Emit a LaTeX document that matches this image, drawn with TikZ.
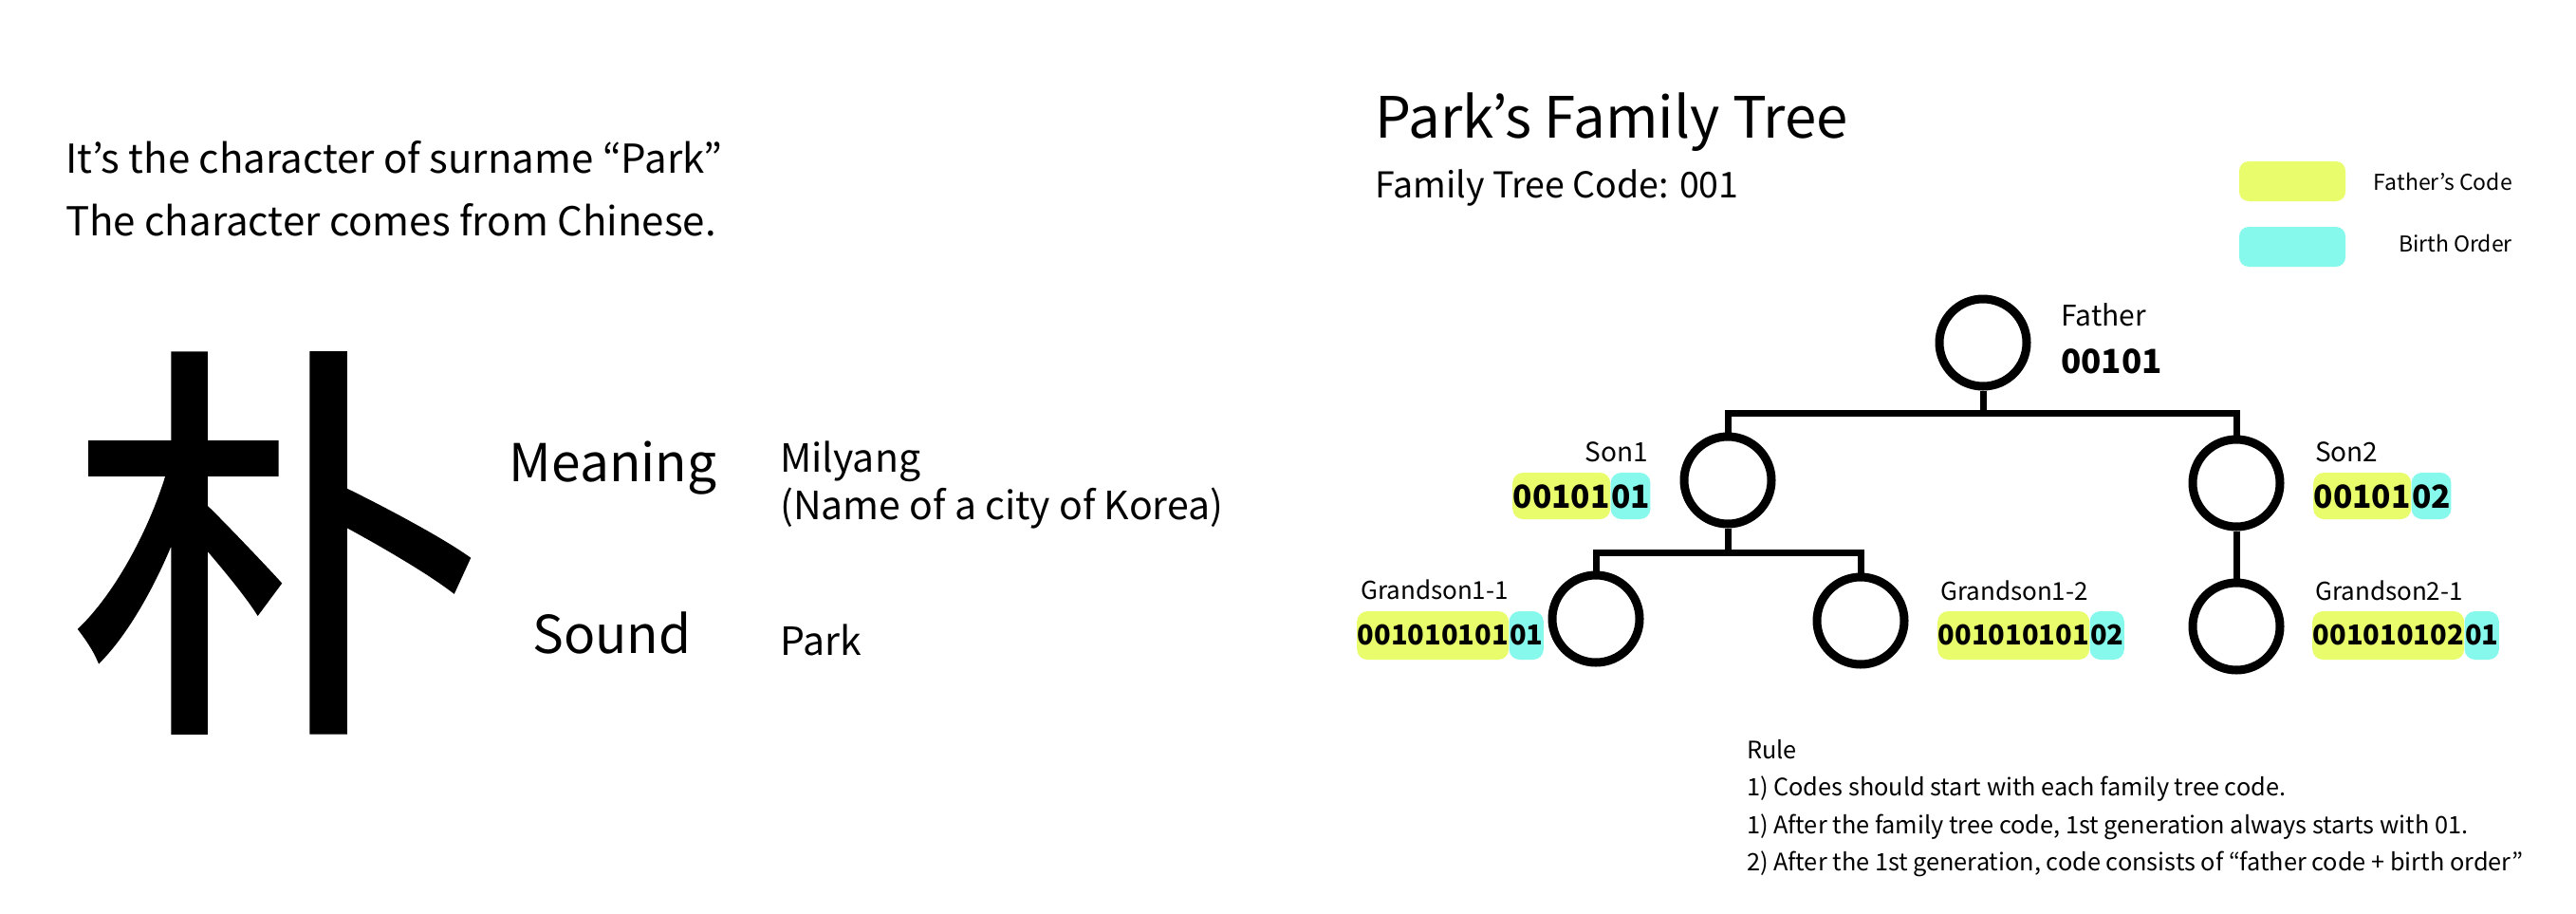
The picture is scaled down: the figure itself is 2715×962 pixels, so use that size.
\documentclass[tikz,border=0pt]{standalone}
\usepackage{fontspec}
\setmainfont{Noto Sans CJK KR}
\newfontfamily\cjkfont[FakeBold=1.5]{Noto Sans CJK KR}
\newcommand{\myfs}[1]{\fontsize{#1}{#1}\selectfont}
\definecolor{fcode}{RGB}{233,252,107}
\definecolor{bcode}{RGB}{134,249,236}
\begin{document}
\begin{tikzpicture}[x=1pt,y=-1pt,
  txt/.style={inner sep=0pt, anchor=base west},
  txtr/.style={inner sep=0pt, anchor=base east},
  person/.style={circle, draw=black, line width=9pt, minimum size=92pt, inner sep=0pt},
  conn/.style={draw=black, line width=7pt, line join=miter},
  legbox/.style={rounded corners=10pt, minimum width=112pt, minimum height=42pt, inner sep=0pt},
  sonhl/.style={rounded corners=11pt, inner xsep=0.5pt, inner ysep=0pt, text height=37pt, text depth=12pt, anchor=base west, font=\bfseries\myfs{33.5}},
  gsonhl/.style={rounded corners=11pt, inner xsep=0.5pt, inner ysep=0pt, text height=35pt, text depth=16pt, anchor=base west, font=\bfseries\myfs{29}}
]
\useasboundingbox (0,0) rectangle (2715,962);
\fill[white] (0,0) rectangle (2715,962);

% left part
\node[txt, font=\myfs{42}] (intro1) at (69,182) {It’s the character of surname “Park”};
\node[txt, font=\myfs{42}] (intro2) at (69,248) {The character comes from Chinese.};
\node[inner sep=0pt, font=\cjkfont\myfs{432}] (park) at (290,572) {朴};
\node[inner sep=0pt, anchor=base, font=\myfs{55}] (meaning) at (646,507) {Meaning};
\node[inner sep=0pt, anchor=base, font=\myfs{55}] (sound) at (645,688) {Sound};
\node[txt, font=\myfs{41}] (mil1) at (822,497) {Milyang};
\node[txt, font=\myfs{41}] (mil2) at (822,547) {(Name of a city of Korea)};
\node[txt, font=\myfs{41}] (sndval) at (822,690) {Park};

% right part
\node[txt, font=\myfs{60}] (title) at (1449,145) {Park’s Family Tree};
\node[txt, font=\myfs{37.5}] (ftc) at (1449,208) {Family Tree Code: 001};

\node[legbox, fill=fcode] (legy) at (2416,191) {};
\node[legbox, fill=bcode] (legc) at (2416,260) {};
\node[txtr, font=\myfs{23}] (legyt) at (2648,200) {Father’s Code};
\node[txtr, font=\myfs{23}] (legct) at (2648,265) {Birth Order};

% persons
\node[person] (father) at (2090,361) {};
\node[person] (son1) at (1821,506) {};
\node[person] (son2) at (2357,509) {};
\node[person] (g11) at (1682,652) {};
\node[person] (g12) at (1961,654) {};
\node[person] (g21) at (2357,660) {};

\coordinate (bar1) at (0,435);
\coordinate (bar2) at (0,582);
\draw[conn] (father.south) -- (father.south |- bar1);
\draw[conn] (son1.north) -- (son1.north |- bar1) -- (son2.north |- bar1) -- (son2.north);
\draw[conn] (son1.south) -- (son1.south |- bar2);
\draw[conn] (g11.north) -- (g11.north |- bar2) -- (g12.north |- bar2) -- (g12.north);
\draw[conn] (son2.south) -- (g21.north);

% labels
\node[txt, font=\myfs{30}] (fatherlbl) at (2172,343) {Father};
\node[txt, font=\bfseries\myfs{35}] (fathercode) at (2172,393) {00101};

\node[txtr, font=\myfs{28}] (son1lbl) at (1737,486) {Son1};
\node[sonhl, fill=fcode] (s1y) at (1594,535) {00101};
\node[sonhl, fill=bcode] (s1c) at (s1y.base east) {01};

\node[txt, font=\myfs{28}] (son2lbl) at (2440,486) {Son2};
\node[sonhl, fill=fcode] (s2y) at (2438,535) {00101};
\node[sonhl, fill=bcode] (s2c) at (s2y.base east) {02};

\node[txt, font=\myfs{26}] (g11lbl) at (1434,631) {Grandson1-1};
\node[gsonhl, fill=fcode] (g11y) at (1430,679) {001010101};
\node[gsonhl, fill=bcode] (g11c) at (g11y.base east) {01};

\node[txt, font=\myfs{26}] (g12lbl) at (2045,632) {Grandson1-2};
\node[gsonhl, fill=fcode] (g12y) at (2042,679) {001010101};
\node[gsonhl, fill=bcode] (g12c) at (g12y.base east) {02};

\node[txt, font=\myfs{26}] (g21lbl) at (2440,632) {Grandson2-1};
\node[gsonhl, fill=fcode] (g21y) at (2437,679) {001010102};
\node[gsonhl, fill=bcode] (g21c) at (g21y.base east) {01};

% rules
\node[txt, font=\myfs{25.3}] (rule0) at (1841,799) {Rule};
\node[txt, font=\myfs{25.3}] (rule1) at (1841,838) {1) Codes should start with each family tree code.};
\node[txt, font=\myfs{25.3}] (rule2) at (1841,878) {1) After the family tree code, 1st generation always starts with 01.};
\node[txt, font=\myfs{25.3}] (rule3) at (1841,917) {2) After the 1st generation, code consists of “father code + birth order”};
\end{tikzpicture}
\end{document}
